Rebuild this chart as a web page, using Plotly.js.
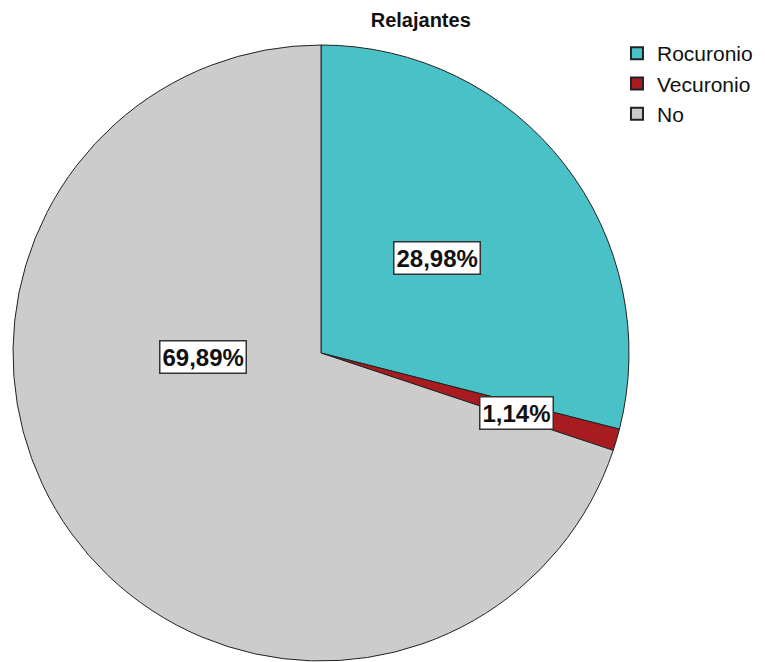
<!DOCTYPE html>
<html>
<head>
<meta charset="utf-8">
<script src="https://cdn.plot.ly/plotly-3.0.1.min.js"></script>
<style>html,body{margin:0;padding:0;background:#fff;}</style>
</head>
<body>
<div id="chart" style="width:765px;height:662px;"></div>
<script>
const categories = ["Rocuronio", "Vecuronio", "No"];
const values = [28.98, 1.14, 69.89];
const valueLabels = ["28,98%", "1,14%", "69,89%"];
const colors = ["#49C1C7", "#A81B20", "#CCCCCC"];
const labelPos = [[0.5712, 0.6103], [0.6758, 0.376], [0.2653, 0.4607]];

const trace = {
  type: "pie",
  labels: categories,
  values: values,
  sort: false,
  direction: "clockwise",
  rotation: 0,
  textinfo: "none",
  hoverinfo: "label+percent",
  marker: {colors: colors, line: {color: "#222", width: 1}},
  domain: {x: [13/765, 629/765], y: [1/662, 617/662]}
};

const annotations = valueLabels.map((t, i) => ({
  text: t, xref: "paper", yref: "paper",
  x: labelPos[i][0], y: labelPos[i][1], xanchor: "center", yanchor: "middle",
  showarrow: false, bgcolor: "#fff", bordercolor: "#333", borderwidth: 1.5, borderpad: 2,
  font: {family: "Liberation Sans, Arial, sans-serif", size: 24, color: "#111", weight: "bold"}
}));

const layout = {
  width: 765, height: 662,
  margin: {l: 0, r: 0, t: 0, b: 0},
  paper_bgcolor: "#fff",
  showlegend: true,
  title: {text: "<b>Relajantes</b>", x: 0.55, xanchor: "center", y: 0.97, yanchor: "middle",
          font: {family: "Liberation Sans, Arial, sans-serif", size: 20, color: "#111"}},
  legend: {x: 0.8065, y: 0.95, xanchor: "left", yanchor: "top", tracegroupgap: 0, itemsizing: "constant",
           font: {family: "Liberation Sans, Arial, sans-serif", size: 21, color: "#111"}, bgcolor: "rgba(0,0,0,0)"},
  annotations: annotations
};

Plotly.newPlot("chart", [trace], layout, {displayModeBar: false, staticPlot: true});
</script>
</body>
</html>
